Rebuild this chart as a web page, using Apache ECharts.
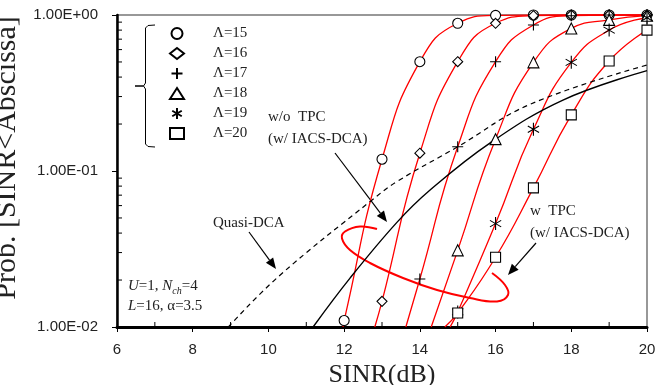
<!DOCTYPE html>
<html>
<head>
<meta charset="utf-8">
<script src="https://cdn.jsdelivr.net/npm/echarts@6/dist/echarts.min.js"></script>
<style>
html, body { margin: 0; padding: 0; background: #fff; }
#chart { width: 657px; height: 385px; }
</style>
</head>
<body>
<div id="chart"></div>
<script>
// SINR points where the markers sit (dB)
var sinr = [12, 13, 14, 15, 16, 17, 18, 19, 20];
var lambdaNames = ['Λ=15', 'Λ=16', 'Λ=17', 'Λ=18', 'Λ=19', 'Λ=20'];
// w TPC (w/ IACS-DCA), one list per Lambda, null = below 1e-2
var prob15 = [0.011, 0.119, 0.502, 0.885, 0.995, 1, 1, 1, 1];
var prob16 = [null, 0.0146, 0.130, 0.502, 0.885, 0.99, 1, 1, 1];
var prob17 = [null, null, 0.0203, 0.143, 0.502, 0.863, 0.99, 1, 1];
var prob18 = [null, null, null, 0.031, 0.160, 0.497, 0.82, 0.93, 0.99];
var prob19 = [null, null, null, 0.0125, 0.046, 0.185, 0.497, 0.80, 0.96];
var prob20 = [null, null, null, 0.0123, 0.028, 0.078, 0.229, 0.507, 0.80];
// where each red curve leaves the bottom of the plot (prob = 1e-2)
var exitSinr = [11.97, 12.81, 13.63, 14.3, 14.8, 14.66];
// w/o TPC (solid black)
var woTpcX = [11.18, 12.15, 13.4, 14.27, 15.85, 17.78, 20];
var woTpcY = [0.01, 0.0205, 0.047, 0.0755, 0.151, 0.285, 0.44];
// Quasi-DCA (dashed black)
var quasiX = [8.94, 10.26, 12.73, 13.39, 15, 16.9, 20];
var quasiY = [0.01, 0.021, 0.065, 0.0854, 0.143, 0.267, 0.478];
// y tick labels
var yTickValues = [0.01, 0.1, 1];
var yTickLabels = ['1.00E-02', '1.00E-01', '1.00E+00'];

var probs = [prob15, prob16, prob17, prob18, prob19, prob20];
var plusPath = 'path://M0,5L10,5M5,0L5,10';
var starPath = 'path://M5,0L5,10M0.67,2.5L9.33,7.5M0.67,7.5L9.33,2.5';
var markerStyles = [
    { symbol: 'circle', size: 10, fill: '#fff' },
    { symbol: 'diamond', size: 10, fill: '#fff' },
    { symbol: plusPath, size: 11, fill: 'transparent' },
    { symbol: 'triangle', size: 11, fill: '#fff' },
    { symbol: starPath, size: 13, fill: 'transparent' },
    { symbol: 'rect', size: 10, fill: '#fff' }
];
var serif = '"Liberation Serif", "Times New Roman", serif';
var sans = '"Liberation Sans", Arial, sans-serif';

var chart = echarts.init(document.getElementById('chart'));

function pairs(xs, ys) {
    var out = [];
    for (var i = 0; i < xs.length; i++) {
        if (ys[i] != null) out.push([xs[i], ys[i]]);
    }
    return out;
}

var series = [];
probs.forEach(function (p, i) {
    var marks = pairs(sinr, p);
    series.push({
        name: 'curve' + i,
        type: 'line',
        data: [[exitSinr[i], 0.01]].concat(marks),
        smooth: 0.5,
        showSymbol: false,
        silent: true,
        lineStyle: { color: '#ff0000', width: 1.3 },
        z: 2
    });
});
series.push({
    name: 'woTpc',
    type: 'line',
    data: pairs(woTpcX, woTpcY),
    smooth: 0.4,
    showSymbol: false,
    silent: true,
    lineStyle: { color: '#000', width: 1.4 },
    z: 3
});
series.push({
    name: 'quasi',
    type: 'line',
    data: pairs(quasiX, quasiY),
    smooth: 0.4,
    showSymbol: false,
    silent: true,
    lineStyle: { color: '#000', width: 1.2, type: [5, 4] },
    z: 3
});
probs.forEach(function (p, i) {
    var m = markerStyles[i];
    series.push({
        name: lambdaNames[i],
        type: 'scatter',
        data: pairs(sinr, p),
        symbol: m.symbol,
        symbolSize: m.size,
        symbolKeepAspect: true,
        itemStyle: { color: m.fill, borderColor: '#000', borderWidth: 1.1, opacity: 1 },
        z: 5
    });
});

function arrow(x1, y1, x2, y2) {
    var dx = x2 - x1, dy = y2 - y1;
    var len = Math.sqrt(dx * dx + dy * dy);
    var ux = dx / len, uy = dy / len;
    var hl = 11, hw = 4.5;
    var bx = x2 - ux * hl, by = y2 - uy * hl;
    return [
        { type: 'line', shape: { x1: x1, y1: y1, x2: bx, y2: by }, style: { stroke: '#000', lineWidth: 1.2 } },
        { type: 'polygon', shape: { points: [[x2, y2], [bx - uy * hw, by + ux * hw], [bx + uy * hw, by - ux * hw]] }, style: { fill: '#000' } }
    ];
}

function label(text, x, y) {
    return { type: 'text', x: x, y: y, style: { text: text, font: '15px ' + serif, fill: '#222', textVerticalAlign: 'middle' } };
}

var option = {
    animation: false,
    backgroundColor: '#fff',
    grid: {
        left: 117, right: 10, top: 15, bottom: 58,
        outerBoundsMode: 'none',
        containLabel: false,
        show: true, borderColor: '#777', borderWidth: 1.5
    },
    legend: {
        data: lambdaNames,
        orient: 'vertical',
        left: 164,
        top: 21,
        itemWidth: 14,
        itemHeight: 11,
        itemGap: 5,
        selectedMode: false,
        textStyle: { fontFamily: serif, fontSize: 15, color: '#222', padding: [0, 0, 0, 24] }
    },
    xAxis: {
        type: 'value',
        min: 6,
        max: 20,
        interval: 2,
        name: 'SINR(dB)',
        nameLocation: 'middle',
        nameGap: 31,
        nameTextStyle: { fontFamily: serif, fontSize: 26, color: '#222' },
        axisLine: { lineStyle: { color: '#000', width: 3 } },
        axisTick: { length: 5, lineStyle: { color: '#000', width: 1 } },
        axisLabel: { fontFamily: sans, fontSize: 15, color: '#222', margin: 15 },
        splitLine: { show: false }
    },
    yAxis: {
        type: 'log',
        logBase: 10,
        min: 0.01,
        max: 1,
        name: 'Prob. [SINR<Abscissa]',
        nameLocation: 'middle',
        nameRotate: 90,
        nameGap: 86,
        nameTextStyle: { fontFamily: serif, fontSize: 30, color: '#222', padding: [0, 0, 0, 26] },
        axisLine: { lineStyle: { color: '#000', width: 2.5 } },
        axisTick: { length: 5, lineStyle: { color: '#000', width: 1 } },
        axisLabel: {
            fontFamily: sans,
            fontSize: 15,
            color: '#222',
            margin: 19,
            formatter: function (v) {
                for (var i = 0; i < yTickValues.length; i++) {
                    if (Math.abs(Math.log10(v) - Math.log10(yTickValues[i])) < 1e-6) return yTickLabels[i];
                }
                return '';
            }
        },
        splitLine: { show: false }
    },
    series: series
};
chart.setOption(option);

// inside minor ticks (log minor ticks on y, odd dB on x) and annotations
var graphics = [];
var axisX = chart.convertToPixel({ xAxisIndex: 0 }, 6);
var axisY = chart.convertToPixel({ yAxisIndex: 0 }, 0.01);
[0.01, 0.1].forEach(function (d) {
    for (var k = 2; k <= 9; k++) {
        var py = chart.convertToPixel({ yAxisIndex: 0 }, k * d);
        graphics.push({ type: 'line', shape: { x1: axisX, y1: py, x2: axisX + 5, y2: py }, style: { stroke: '#000', lineWidth: 1 } });
    }
});
for (var v = 7; v < 20; v += 2) {
    var px = chart.convertToPixel({ xAxisIndex: 0 }, v);
    graphics.push({ type: 'line', shape: { x1: px, y1: axisY, x2: px, y2: axisY - 5 }, style: { stroke: '#000', lineWidth: 1 } });
}
// legend brace
graphics.push({
    type: 'polyline',
    shape: { points: [[155, 25], [148, 25.5], [145.5, 28], [145.5, 83], [143.5, 86], [135, 86], [143.5, 86], [145.5, 89], [145.5, 144], [148, 146.5], [155, 147]] },
    style: { stroke: '#000', lineWidth: 1, fill: null }
});
// red lasso around the w TPC curves
graphics.push({
    type: 'polyline',
    shape: {
        smooth: 0.4,
        points: [[377, 229], [360, 226.5], [345, 231.5], [342, 238.5], [350, 250], [370, 263], [403, 278], [437, 290], [470, 298], [497, 301.5], [508, 295], [505, 285], [492, 273]]
    },
    style: { stroke: '#ff0000', lineWidth: 2, fill: null }
});
graphics = graphics.concat(arrow(335, 153, 387, 222));
graphics = graphics.concat(arrow(249, 232, 276, 269));
graphics = graphics.concat(arrow(536, 243, 508, 275));
graphics.push(label('w/o  TPC', 268, 117));
graphics.push(label('(w/ IACS-DCA)', 268, 139));
graphics.push(label('Quasi-DCA', 213, 223));
graphics.push(label('w  TPC', 530, 211));
graphics.push(label('(w/ IACS-DCA)', 530, 233));
graphics.push({
    type: 'text',
    x: 128,
    y: 276,
    style: {
        text: '{i|U}=1, {i|N}{s|ch}=4\n{i|L}=16, α=3.5',
        font: '15px ' + serif,
        fill: '#222',
        lineHeight: 20,
        rich: {
            i: { fontStyle: 'italic', fontFamily: serif, fontSize: 15, lineHeight: 20 },
            s: { fontStyle: 'italic', fontFamily: serif, fontSize: 10, lineHeight: 20, verticalAlign: 'bottom', padding: [6, 0, 0, 0] }
        }
    }
});
chart.setOption({ graphic: graphics });
</script>
</body>
</html>
